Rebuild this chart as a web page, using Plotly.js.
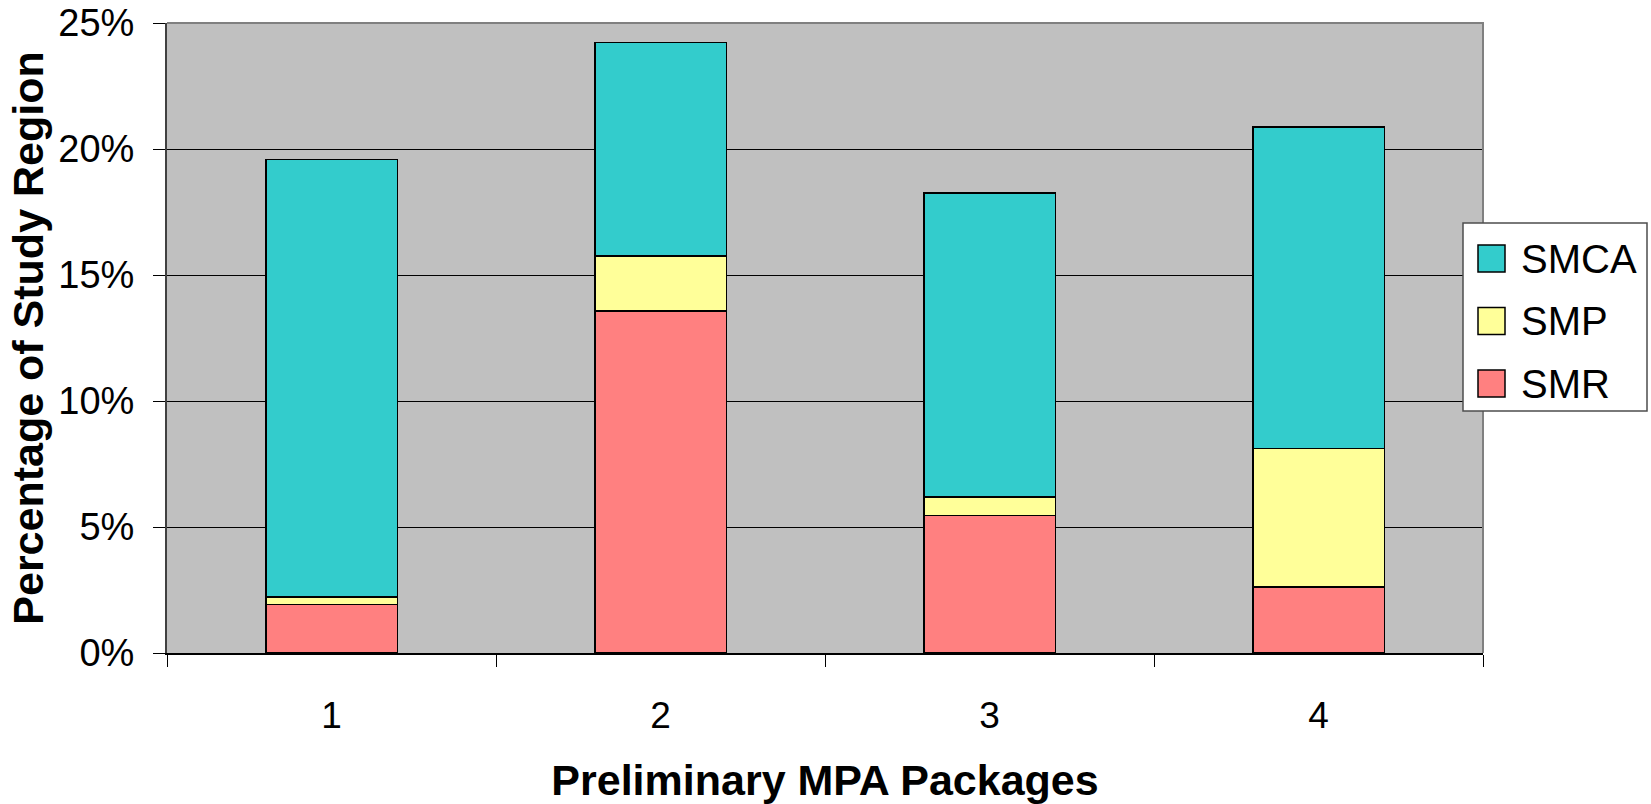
<!DOCTYPE html>
<html>
<head>
<meta charset="utf-8">
<script src="https://cdn.plot.ly/plotly-3.0.1.min.js"></script>
<style>
  html, body { margin: 0; padding: 0; background: #ffffff; }
  #chart { width: 1651px; height: 804px; }
</style>
</head>
<body>
<div id="chart"></div>
<script>
// Data (percent of study region)
const packages = ['1', '2', '3', '4'];
const seriesNames = ['SMR', 'SMP', 'SMCA'];
const smr  = [1.92, 13.56, 5.46, 2.62];
const smp  = [0.30, 2.19, 0.72, 5.49];
const smca = [17.36, 8.47, 12.07, 12.77];
const yTickValues = [0, 5, 10, 15, 20, 25];
const legendOrder = ['SMCA', 'SMP', 'SMR'];

const colors = { SMR: '#FF8080', SMP: '#FFFF99', SMCA: '#33CCCC' };
const valuesByName = { SMR: smr, SMP: smp, SMCA: smca };

const traces = seriesNames.map(name => ({
  type: 'bar',
  name: name,
  x: packages,
  y: valuesByName[name],
  marker: { color: colors[name], line: { color: '#000000', width: 1.6 } },
  hoverinfo: 'x+y+name'
}));

const FONT = 'Liberation Sans, Arial, Helvetica, sans-serif';

// Figure geometry (pixels)
const W = 1651, H = 804;
const M = { l: 167, r: 168, t: 23, b: 151 };
const plotW = W - M.l - M.r, plotH = H - M.t - M.b;
const px2x = px => (px - M.l) / plotW;
const px2y = py => (H - M.b - py) / plotH;

// Legend box drawn as layout shapes + annotations (pixel positions)
const legendBox = { x0: 1463, x1: 1647, y0: 223, y1: 411 };
const legendRowCenters = [258.5, 321, 383.5];
const legendSym = { x0: 1478, x1: 1505, half: 13.5 };
const legendTextX = 1519;

const shapes = [
  { type: 'path', xref: 'paper', yref: 'paper', path: 'M 0 1 L 1 1 L 1 0',
    line: { color: '#808080', width: 2 }, layer: 'above' },
  { type: 'rect', xref: 'paper', yref: 'paper',
    x0: px2x(legendBox.x0), x1: px2x(legendBox.x1),
    y0: px2y(legendBox.y1), y1: px2y(legendBox.y0),
    fillcolor: '#FFFFFF', line: { color: '#4D4D4D', width: 1.5 }, layer: 'above' }
];
const annotations = [];
legendOrder.forEach((name, i) => {
  const cy = legendRowCenters[i];
  shapes.push({
    type: 'rect', xref: 'paper', yref: 'paper',
    x0: px2x(legendSym.x0), x1: px2x(legendSym.x1),
    y0: px2y(cy + legendSym.half), y1: px2y(cy - legendSym.half),
    fillcolor: colors[name], line: { color: '#000000', width: 1.5 }, layer: 'above'
  });
  annotations.push({
    xref: 'paper', yref: 'paper', x: px2x(legendTextX), y: px2y(cy),
    xanchor: 'left', yanchor: 'middle', showarrow: false, text: name,
    font: { family: FONT, size: 40, color: '#000000' }
  });
});

const layout = {
  width: W,
  height: H,
  margin: { l: M.l, r: M.r, t: M.t, b: M.b, pad: 0 },
  paper_bgcolor: '#FFFFFF',
  plot_bgcolor: '#C0C0C0',
  barmode: 'stack',
  bargap: 0.6,
  font: { family: FONT, color: '#000000' },
  showlegend: false,
  xaxis: {
    type: 'category',
    tickson: 'boundaries',
    ticks: 'outside', ticklen: 12, tickcolor: '#000000', tickwidth: 1,
    showline: true, linecolor: '#000000', linewidth: 1.5,
    showgrid: false, zeroline: false,
    tickfont: { family: FONT, size: 37, color: '#000000' },
    ticklabelstandoff: 29,
    automargin: false,
    title: { text: 'Preliminary MPA Packages', font: { family: FONT, size: 43, color: '#000000', weight: 'bold' }, standoff: 34 }
  },
  yaxis: {
    range: [0, 25],
    tickmode: 'array',
    tickvals: yTickValues,
    ticktext: yTickValues.map(v => v + '%'),
    ticks: 'outside', ticklen: 12, tickcolor: '#000000', tickwidth: 1,
    showline: true, linecolor: '#404040', linewidth: 2,
    showgrid: true, gridcolor: '#000000', gridwidth: 1,
    zeroline: false,
    tickfont: { family: FONT, size: 38, color: '#000000' },
    ticklabelstandoff: 11,
    automargin: false,
    title: { text: 'Percentage of Study Region', font: { family: FONT, size: 43, color: '#000000', weight: 'bold' }, standoff: 1 }
  },
  shapes: shapes,
  annotations: annotations
};

Plotly.newPlot('chart', traces, layout, { displayModeBar: false, staticPlot: true });
</script>
</body>
</html>
